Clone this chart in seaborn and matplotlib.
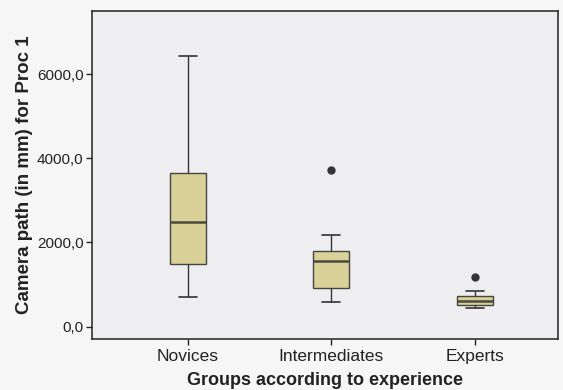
import pandas as pd
import seaborn as sns
import matplotlib.pyplot as plt

# camera path values per group (whiskers, quartiles, median, outliers)
novices = [705, 1100, 1496, 2000, 2478, 3000, 3650, 5000, 6430]
intermediates = [587, 700, 919, 1200, 1551, 1700, 1789, 2185, 3730]
experts = [444, 480, 523, 560, 610, 680, 736, 855, 1171]

groups = ["Novices", "Intermediates", "Experts"]
yticks = [0, 2000, 4000, 6000]
ytick_labels = ["0,0", "2000,0", "4000,0", "6000,0"]

rows = []
for name, vals in zip(groups, [novices, intermediates, experts]):
    for v in vals:
        rows.append({"group": name, "path": v})
df = pd.DataFrame(rows)

sns.set_style("white")
plt.rcParams["font.family"] = ["Liberation Sans", "DejaVu Sans"]

fig = plt.figure(figsize=(5.63, 3.9), dpi=100)
fig.patch.set_facecolor("#f6f6f6")
ax = fig.add_axes([0.163, 0.131, 0.828, 0.841])
ax.set_facecolor("#eeeef0")

sns.boxplot(data=df, x="group", y="path", order=groups, ax=ax,
            width=0.25, color="#dad198", saturation=1,
            linewidth=1.0, linecolor="#444444",
            medianprops={"color": "#4a4a3a", "linewidth": 1.8},
            whiskerprops={"color": "#333333", "linewidth": 1.0},
            capprops={"color": "#333333", "linewidth": 1.2},
            flierprops={"marker": "o", "markersize": 5,
                        "markerfacecolor": "#333333",
                        "markeredgecolor": "#333333"})

ax.set_xlim(-0.67, 2.58)
ax.set_ylim(-290, 7500)
ax.set_yticks(yticks)
ax.set_yticklabels(ytick_labels, fontsize=11, color="#222222")
ax.tick_params(axis="x", labelsize=12.5, colors="#222222", length=4, width=1, pad=3)
ax.tick_params(axis="y", length=4, width=1, pad=2)
ax.tick_params(axis="both", direction="out", bottom=True, left=True)
for lbl in ax.get_xticklabels():
    lbl.set_color("#222222")

for s in ax.spines.values():
    s.set_visible(True)
    s.set_color("#222222")
    s.set_linewidth(1.1)

ax.set_xlabel("Groups according to experience", fontsize=13,
              fontweight="bold", color="#222222", labelpad=6)
ax.set_ylabel("Camera path (in mm) for Proc 1", fontsize=13.5,
              fontweight="bold", color="#222222", labelpad=3)

plt.savefig("out.png", dpi=100, facecolor=fig.get_facecolor())
